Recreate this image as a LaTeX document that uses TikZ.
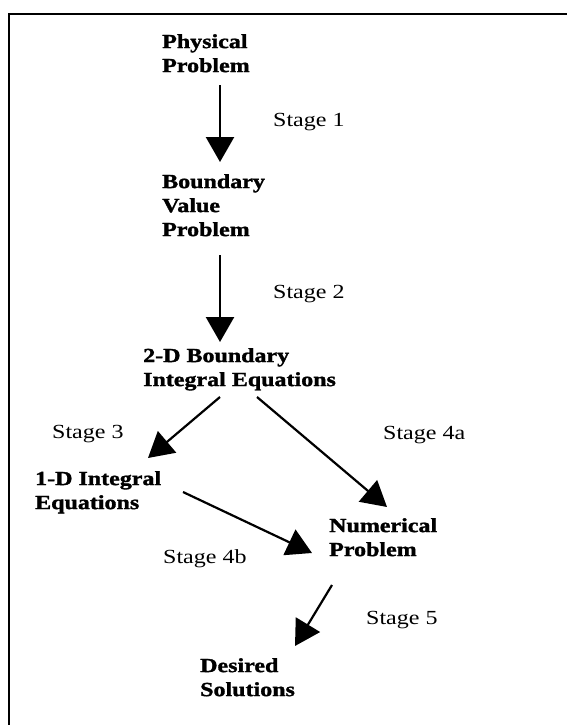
\documentclass[tikz,border=0pt]{standalone}
\usepackage{fontspec}
\setmainfont{Liberation Serif}[FakeStretch=1.2, BoldFeatures={FakeBold=1.5}]
\usetikzlibrary{arrows.meta,positioning,calc}

\begin{document}
\begin{tikzpicture}[x=1pt, y=-1pt, font=\fontsize{20}{24}\selectfont,
prob/.style={anchor=north west, inner sep=0pt, align=left, font=\fontsize{20}{24}\selectfont\bfseries},
stage/.style={anchor=base west, inner sep=0pt},
arrow/.style={-{Triangle[length=25pt, width=28pt]}, line width=2.5pt}]
\useasboundingbox (0,0) rectangle (567,725);
\draw[line width=1.8pt] (567,14) -- (9,14) -- (9,725);
% problems
\node[prob] (pp) at (162,34) {Physical\\Problem};
\node[prob] (bvp) at (162,174) {Boundary\\Value\\Problem};
\node[prob] (bie) at (143,348) {2-D Boundary\\Integral Equations};
\node[prob] (ie1) at (35,471) {1-D Integral\\Equations};
\node[prob] (np) at (329,518) {Numerical\\Problem};
\node[prob] (ds) at (200,658) {Desired\\Solutions};
% stages
\node[stage] (st1) at (273,126) {Stage 1};
\node[stage] (st2) at (273,298) {Stage 2};
\node[stage] (st3) at (52,438) {Stage 3};
\node[stage] (st4a) at (383,439) {Stage 4a};
\node[stage] (st4b) at (163,563) {Stage 4b};
\node[stage] (st5) at (366,624) {Stage 5};
% arrows
\draw[arrow] ($(pp.north west)+(58,51)$) -- ($(bvp.north west)+(58,-12)$);
\draw[arrow] ($(bvp.north west)+(58,81)$) -- ($(bie.north west)+(77,-6)$);
\draw[arrow, line width=2.2pt] ($(bie.north west)+(77,49)$) -- ($(ie1.north west)+(113,-13)$);
\draw[arrow, line width=2.2pt] ($(bie.north west)+(114,49)$) -- ($(np.north west)+(58,-11)$);
\draw[arrow, line width=2.2pt] ($(ie1.north west)+(148,21)$) -- ($(np.north west)+(-17,35)$);
\draw[arrow, line width=2.2pt] ($(np.north west)+(3,67)$) -- ($(ds.north west)+(95,-12)$);
\end{tikzpicture}
\end{document}
